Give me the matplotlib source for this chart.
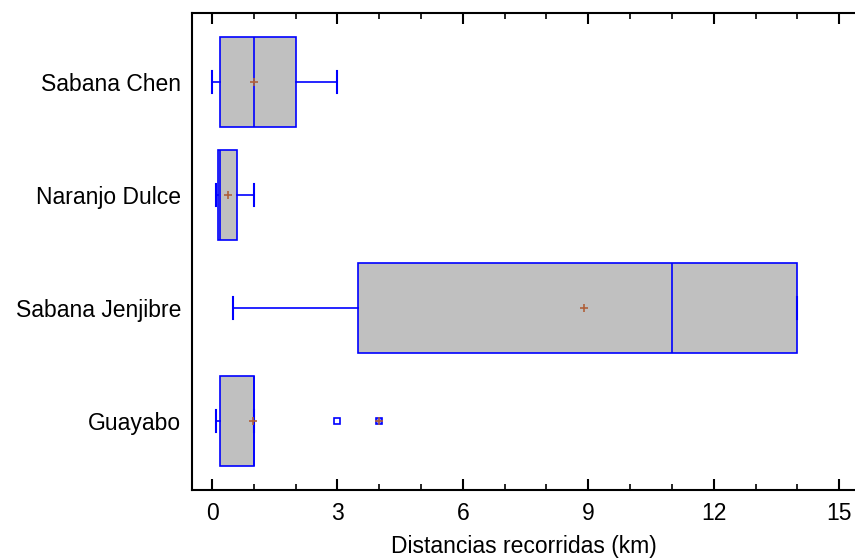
import matplotlib
matplotlib.use("Agg")
import matplotlib.pyplot as plt
from matplotlib.ticker import MultipleLocator

plt.rcParams['font.family'] = ['Liberation Sans', 'DejaVu Sans']

# data (bottom to top)
labels = ['Guayabo', 'Sabana Jenjibre', 'Naranjo Dulce', 'Sabana Chen']
whislo = [0.1, 0.5, 0.1, 0.0]
q1 = [0.2, 3.5, 0.15, 0.2]
med = [1.0, 11.0, 0.2, 1.0]
q3 = [1.0, 14.0, 0.6, 2.0]
whishi = [1.0, 14.0, 1.0, 3.0]
means = [0.97, 8.9, 0.38, 1.0]
outside = [[3.0], [], [], []]
far_outside = [[4.0], [], [], []]

stats = []
for i in range(len(labels)):
    stats.append(dict(label=labels[i], whislo=whislo[i], q1=q1[i], med=med[i],
                      q3=q3[i], whishi=whishi[i], mean=means[i], fliers=outside[i]))

fig = plt.figure(figsize=(8.55, 5.6), dpi=100)
ax = fig.add_axes([192/855, 1-490/560, (855-192)/855, (490-13)/560])

blue = '#0000FF'
brown = '#B0603A'
pos = list(range(1, len(labels)+1))

ax.bxp(stats, positions=pos, vert=False, widths=0.8, capwidths=0.2,
       showmeans=True, patch_artist=True,
       boxprops=dict(facecolor='#C0C0C0', edgecolor=blue, linewidth=1.2),
       medianprops=dict(color=blue, linewidth=1.2),
       whiskerprops=dict(color=blue, linewidth=1.2),
       capprops=dict(color=blue, linewidth=1.5),
       meanprops=dict(marker='+', markeredgecolor=brown, markersize=6, markeredgewidth=1.2),
       flierprops=dict(marker='s', markerfacecolor='white', markeredgecolor=blue,
                       markersize=4, markeredgewidth=1.2))

# far outside points: square with a plus sign
for i in range(len(labels)):
    for v in far_outside[i]:
        ax.plot(v, pos[i], marker='s', markerfacecolor='#8080FF', markeredgecolor=blue,
                markersize=5, markeredgewidth=1.2, linestyle='none')
        ax.plot(v, pos[i], marker='+', markeredgecolor=brown, markersize=6,
                markeredgewidth=1.2, linestyle='none')

ax.set_xlim(-0.48, 15.38)
ax.set_ylim(0.39, 4.61)
ax.set_yticks(pos)
ax.set_yticklabels(labels)
ax.xaxis.set_major_locator(MultipleLocator(3))
ax.xaxis.set_minor_locator(MultipleLocator(1))
ax.tick_params(axis='x', which='major', direction='in', top=True, length=8, width=1.5,
               labelsize=16.5, pad=9)
ax.tick_params(axis='x', which='minor', direction='in', top=True, length=4, width=1.2)
ax.tick_params(axis='y', length=0, labelsize=16.5, pad=8)
ax.spines['right'].set_visible(False)
for s in ['left', 'top', 'bottom']:
    ax.spines[s].set_linewidth(1.5)
ax.set_xlabel('Distancias recorridas (km)', fontsize=16.5, labelpad=7)

fig.savefig('out.png', dpi=100)
